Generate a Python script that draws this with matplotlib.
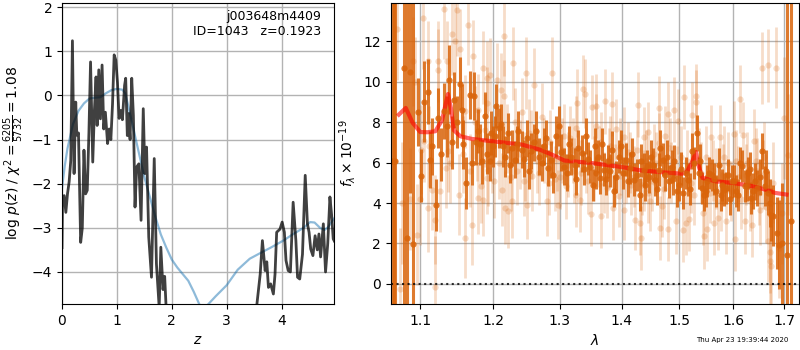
import numpy as np
import matplotlib
matplotlib.use("Agg")
import matplotlib.pyplot as plt
from matplotlib.ticker import FixedLocator, NullLocator

# --- left panel: log p(z) and prior curve ---
z_pz = [0.0, 0.01, 0.04, 0.07, 0.10, 0.13, 0.16, 0.19, 0.22, 0.25,
        0.27, 0.30, 0.34, 0.37, 0.40, 0.43, 0.46, 0.49, 0.52, 0.56,
        0.59, 0.62, 0.64, 0.67, 0.70, 0.73, 0.76, 0.79, 0.83, 0.86,
        0.89, 0.92, 0.95, 0.98, 1.01, 1.04, 1.07, 1.10, 1.14, 1.16,
        1.19, 1.21, 1.24, 1.27, 1.30, 1.33, 1.36, 1.40, 1.44, 1.48,
        1.51, 1.54, 1.58, 1.63, 1.68, 1.72, 1.77, 1.80, 1.84, 1.87,
        1.90, 1.95, 2.2, 2.6, 3.0, 3.4, 3.52, 3.55, 3.61, 3.65,
        3.70, 3.73, 3.76, 3.80, 3.85, 3.88, 3.91, 3.97, 4.01, 4.05,
        4.08, 4.12, 4.16, 4.21, 4.26, 4.29, 4.33, 4.38, 4.43, 4.47,
        4.50, 4.53, 4.57, 4.61, 4.65, 4.68, 4.71, 4.76, 4.80, 4.84,
        4.88, 4.91, 4.94, 4.96]
logp = [-3.45, -2.3, -2.27, -2.65, -2.23, -1.96, -1.47, 1.24, -1.77, -0.15,
        -0.9, -0.85, -3.33, -3.0, -1.24, -2.23, -2.15, -0.86, 0.76, -1.51,
        -0.34, 0.42, -0.68, 0.58, -0.53, 0.69, -0.76, -0.38, -1.09, -0.76,
        -1.0, -0.2, 0.92, 0.8, 0.3, -0.52, -0.34, -0.55, 0.23, 0.39,
        -0.91, -0.41, -1.0, 0.39, -0.45, -2.53, -1.62, -1.55, -2.83, -0.3,
        -1.77, -1.17, -3.21, -4.12, -1.43, -3.82, -4.8, -3.44, -4.4, -4.1,
        -4.9, -6.0, -9.0, -10.0, -9.0, -7.0, -5.5, -4.73, -4.05, -3.29,
        -3.97, -3.77, -4.35, -4.27, -4.5, -4.05, -3.1, -3.03, -2.87, -3.1,
        -3.74, -3.97, -4.0, -2.42, -3.29, -4.12, -4.16, -3.6, -1.81, -2.91,
        -3.1, -3.48, -3.63, -3.18, -3.5, -3.14, -3.66, -2.91, -4.0, -3.36,
        -2.30, -2.7, -3.25, -3.3]

z_prior = [0, 0.05, 0.1, 0.2, 0.3, 0.4, 0.5, 0.6, 0.7, 0.8, 0.9, 1.0, 1.1, 1.15,
           1.2, 1.3, 1.4, 1.5, 1.6, 1.7, 1.8, 1.9, 2.0, 2.1, 2.2, 2.3, 2.4, 2.5,
           2.58, 2.65, 2.8, 3.0, 3.2, 3.42, 3.6, 3.8, 4.03, 4.2, 4.4, 4.52, 4.6,
           4.7, 4.78, 4.85, 4.96]
logp_prior = [-2.1, -1.6, -1.2, -0.65, -0.35, -0.18, -0.07, -0.05, -0.04, 0.05,
              0.12, 0.15, 0.13, 0.05, -0.2, -0.75, -1.3, -1.85, -2.3, -2.75,
              -3.15, -3.45, -3.72, -3.9, -4.05, -4.2, -4.45, -4.73, -4.85, -4.75,
              -4.55, -4.3, -3.95, -3.7, -3.58, -3.45, -3.29, -3.15, -3.0, -2.87,
              -2.88, -3.0, -3.05, -2.98, -2.78]

# --- right panel: spectrum points (wavelength, flux, error) ---
dark_lam = [1.0635, 1.0655, 1.0675, 1.0785, 1.082, 1.087, 1.091, 1.097, 1.101, 1.105,
            1.110, 1.113, 1.116, 1.121, 1.124, 1.127, 1.131, 1.136, 1.139, 1.145,
            1.150, 1.153, 1.158, 1.162, 1.167, 1.170, 1.173, 1.178, 1.181, 1.184,
            1.188, 1.192, 1.197, 1.200, 1.205, 1.209, 1.214, 1.218, 1.222, 1.227,
            1.232, 1.237, 1.242, 1.250, 1.256, 1.264, 1.268, 1.275, 1.281, 1.286,
            1.294, 1.299, 1.306, 1.311, 1.318, 1.323, 1.329, 1.335, 1.342, 1.348,
            1.355, 1.358, 1.364, 1.371, 1.377, 1.383, 1.387, 1.395, 1.402, 1.407,
            1.414, 1.421, 1.426, 1.430, 1.437, 1.443, 1.450, 1.456, 1.463, 1.466,
            1.471, 1.475, 1.481, 1.486, 1.491, 1.496, 1.500, 1.506, 1.511, 1.516,
            1.522, 1.527, 1.531, 1.536, 1.541, 1.545, 1.549, 1.554, 1.559, 1.567,
            1.573, 1.578, 1.582, 1.586, 1.593, 1.597, 1.605, 1.612, 1.617, 1.622,
            1.629, 1.635, 1.642, 1.646, 1.656, 1.661, 1.668, 1.674, 1.678, 1.685,
            1.689, 1.696, 1.706, 1.715,
            1.143, 1.156, 1.176, 1.195, 1.203, 1.212, 1.225, 1.235, 1.246, 1.253,
            1.260, 1.272, 1.278, 1.290, 1.302, 1.314, 1.326, 1.338, 1.345, 1.352,
            1.361, 1.368, 1.374, 1.380, 1.391, 1.398, 1.410, 1.418, 1.433, 1.440,
            1.447, 1.453, 1.460, 1.478, 1.489, 1.503, 1.519, 1.538, 1.551, 1.563,
            1.576, 1.590, 1.601, 1.609, 1.626, 1.632, 1.639, 1.651, 1.664, 1.671]
dark_flux = [6.1, 6.1, 6.1, 10.7, 2.27, 10.5, 1.98, 8.5, 5.35, 9.0,
             9.5, 6.15, 6.8, 3.9, 8.2, 6.4, 8.55, 7.8, 10.1, 9.1,
             8.0, 9.9, 6.9, 5.0, 9.35, 6.0, 9.3, 7.55, 6.9, 6.06,
             8.3, 6.44, 7.47, 6.8, 8.8, 7.7, 6.8, 6.3, 7.46, 6.72,
             6.15, 7.55, 6.64, 7.2, 6.56, 7.55, 6.3, 6.8, 5.73, 6.15,
             7.3, 7.8, 5.8, 5.5, 6.3, 5.9, 6.7, 6.45, 7.3, 5.8,
             6.8, 5.5, 5.24, 5.65, 6.06, 6.64, 4.58, 6.3, 5.5, 6.15,
             5.73, 5.16, 5.4, 4.42, 5.65, 5.82, 6.3, 5.16, 5.65, 6.72,
             6.15, 5.4, 5.07, 5.8, 6.06, 4.58, 4.9, 4.5, 5.5, 5.16,
             6.56, 5.98, 7.46, 5.5, 4.74, 4.42, 4.58, 5.5, 5.4, 4.58,
             5.9, 4.9, 4.66, 4.74, 4.2, 5.07, 4.58, 5.98, 5.82, 4.83,
             5.5, 4.25, 5.07, 4.74, 6.56, 4.83, 4.5, 3.43, 3.38, 2.52,
             1.94, 2.0, 1.45, 3.1,
             7.0, 8.6, 7.0, 6.1, 7.3, 7.9, 5.9, 6.9, 6.2, 5.6,
             7.0, 6.0, 7.2, 5.4, 6.5, 6.9, 5.2, 5.7, 6.2, 4.9,
             6.3, 6.9, 5.2, 5.6, 5.3, 6.8, 5.1, 6.4, 6.1, 4.9,
             5.3, 5.9, 4.7, 6.3, 5.2, 5.7, 4.7, 6.1, 5.1, 5.2,
             4.4, 5.4, 5.1, 4.4, 4.9, 5.7, 4.6, 5.3, 5.6, 4.0]
dark_err = [20, 20, 20, 15, 12, 6.0, 12, 1.7, 1.3, 2.0,
            1.6, 1.4, 1.4, 1.3, 1.5, 1.3, 1.4, 1.5, 1.7, 1.4,
            1.3, 1.3, 1.2, 1.3, 1.2, 1.1, 1.2, 1.1, 1.0, 1.1,
            1.2, 1.0, 1.1, 1.0, 1.1, 1.0, 1.0, 1.0, 1.0, 0.9,
            0.9, 1.0, 0.9, 0.9, 0.9, 1.0, 0.9, 0.9, 0.9, 0.9,
            1.0, 1.0, 0.9, 0.9, 0.9, 0.8, 0.9, 0.9, 0.9, 0.8,
            0.9, 0.8, 0.8, 0.8, 0.8, 0.9, 0.8, 0.8, 0.8, 0.8,
            0.8, 0.8, 0.8, 0.8, 0.8, 0.8, 0.8, 0.8, 0.8, 0.9,
            0.8, 0.8, 0.8, 0.8, 0.8, 0.8, 0.8, 0.8, 0.8, 0.8,
            0.9, 0.8, 0.9, 0.8, 0.8, 0.8, 0.8, 0.8, 0.8, 0.8,
            0.8, 0.8, 0.8, 0.8, 0.8, 0.8, 0.8, 0.8, 0.8, 0.8,
            0.8, 0.8, 0.9, 0.9, 0.9, 1.0, 1.1, 1.3, 1.5, 1.8,
            2.2, 3.0, 15, 15,
            1.3, 1.3, 1.1, 1.0, 1.0, 1.0, 0.9, 0.9, 0.9, 0.9,
            0.9, 0.9, 0.9, 0.9, 0.9, 0.9, 0.8, 0.8, 0.8, 0.8,
            0.8, 0.8, 0.8, 0.8, 0.8, 0.8, 0.8, 0.8, 0.8, 0.8,
            0.8, 0.8, 0.8, 0.8, 0.8, 0.8, 0.8, 0.8, 0.8, 0.8,
            0.8, 0.8, 0.8, 0.8, 0.8, 0.8, 0.9, 0.9, 1.0, 1.2]

light_lam = [1.070, 1.074, 1.076, 1.087, 1.091, 1.093, 1.096, 1.099, 1.101, 1.104,
             1.105, 1.110, 1.110, 1.112, 1.115, 1.119, 1.120, 1.123, 1.124, 1.126,
             1.132, 1.134, 1.136, 1.137, 1.142, 1.147, 1.149, 1.152, 1.154, 1.161,
             1.161, 1.165, 1.170, 1.172, 1.174, 1.179, 1.179, 1.183, 1.185, 1.186,
             1.191, 1.192, 1.192, 1.193, 1.195, 1.202, 1.206, 1.211, 1.213, 1.216,
             1.216, 1.218, 1.221, 1.228, 1.229, 1.235, 1.242, 1.245, 1.249, 1.250,
             1.253, 1.258, 1.261, 1.265, 1.272, 1.280, 1.284, 1.288, 1.292, 1.297,
             1.303, 1.310, 1.316, 1.322, 1.326, 1.326, 1.327, 1.331, 1.337, 1.339,
             1.345, 1.349, 1.351, 1.357, 1.358, 1.362, 1.366, 1.372, 1.375, 1.380,
             1.384, 1.385, 1.391, 1.395, 1.399, 1.403, 1.404, 1.410, 1.416, 1.422,
             1.427, 1.430, 1.433, 1.437, 1.437, 1.445, 1.445, 1.448, 1.455, 1.463,
             1.464, 1.466, 1.469, 1.475, 1.479, 1.480, 1.485, 1.490, 1.493, 1.498,
             1.503, 1.506, 1.508, 1.511, 1.517, 1.520, 1.523, 1.530, 1.530, 1.535,
             1.542, 1.545, 1.551, 1.557, 1.562, 1.564, 1.570, 1.574, 1.580, 1.585,
             1.590, 1.601, 1.603, 1.608, 1.612, 1.619, 1.622, 1.627, 1.637, 1.640,
             1.645, 1.652, 1.655, 1.660, 1.667, 1.668, 1.671, 1.671, 1.673, 1.678,
             1.684, 1.689, 1.695, 1.700, 1.709,
             1.140, 1.158, 1.168, 1.177, 1.189, 1.198, 1.208, 1.220, 1.226, 1.232,
             1.239, 1.247, 1.256, 1.268, 1.276, 1.283, 1.295, 1.300, 1.307, 1.313,
             1.320, 1.334, 1.342, 1.354, 1.365, 1.370, 1.378, 1.389, 1.397, 1.407,
             1.413, 1.420, 1.426, 1.434, 1.441, 1.451, 1.458, 1.472, 1.483, 1.496,
             1.514, 1.527, 1.539, 1.548, 1.555, 1.567, 1.577, 1.583, 1.595, 1.605,
             1.615, 1.624, 1.633, 1.643, 1.649, 1.658, 1.663]
light_flux = [12.6, -0.25, 4.0, 4.2, 11.0, 10.0, 2.44, 4.2, 6.64, 13.15,
              7.05, 11.0, 3.76, 6.8, 4.66, 3.18, -0.15, 10.6, 11.0, 4.58,
              13.6, 5.73, 11.0, 6.56, 12.35, 12.0, 13.55, 4.42, 11.6, 8.53,
              2.27, 12.8, 2.92, 11.25, 8.0, 8.6, 4.25, 4.83, 4.17, 10.7,
              5.24, 10.2, 8.95, 5.65, 10.35, 5.07, 10.1, 9.6, 4.66, 12.27,
              9.27, 3.76, 3.6, 4.08, 10.9, 5.6, 8.48, 5.07, 10.43, 3.92,
              7.46, 5.32, 9.85, 6.1, 8.25, 4.08, 7.0, 10.43, 5.2, 3.92,
              6.6, 4.83, 7.2, 5.6, 7.71, 4.42, 8.95, 4.17, 9.64, 9.4,
              5.07, 3.46, 8.75, 7.8, 8.8, 6.3, 3.38, 9.03, 4.74, 6.8,
              8.9, 3.76, 7.66, 4.33, 5.9, 7.27, 3.67, 6.5, 4.9, 3.18,
              8.86, 3.01, 2.27, 7.27, 5.1, 7.5, 4.5, 4.12, 6.4, 8.7,
              6.97, 2.77, 3.84, 7.3, 8.4, 2.72, 5.5, 8.62, 3.1, 8.04,
              6.3, 2.69, 9.24, 3.01, 3.21, 5.0, 8.37, 9.27, 8.98, 6.2,
              3.51, 2.36, 2.72, 7.27, 5.6, 3.01, 3.26, 7.27, 5.4, 3.1,
              6.0, 7.43, 2.22, 5.3, 9.14, 7.38, 3.1, 6.0, 2.93, 7.05,
              5.6, 3.64, 10.68, 6.3, 10.8, 2.1, 1.57, 1.12, 0.87, 5.0,
              10.68, 1.78, 3.5, 8.2, 6.39,
              6.0, 6.4, 5.6, 6.9, 7.6, 6.3, 6.0, 7.2, 5.3, 8.0,
              6.4, 5.8, 6.9, 5.5, 6.6, 5.0, 6.2, 5.3, 7.3, 5.9,
              6.6, 5.5, 6.1, 5.7, 7.0, 5.0, 6.2, 5.4, 6.7, 5.5,
              6.0, 5.3, 6.6, 4.9, 6.1, 5.1, 6.0, 4.7, 6.7, 5.3,
              6.1, 4.4, 5.5, 6.3, 4.5, 5.2, 4.1, 6.3, 4.6, 6.1,
              4.2, 5.4, 4.1, 6.1, 4.5, 5.4, 3.8]
light_err = [2.5, 3.0, 3.0, 2.5, 2.2, 2.2, 2.5, 2.3, 2.2, 2.5,
             2.0, 2.0, 2.2, 2.0, 2.0, 2.2, 2.5, 2.0, 2.0, 2.0,
             2.5, 2.0, 2.0, 2.0, 2.0, 2.0, 2.3, 2.0, 2.0, 1.8,
             2.0, 2.0, 2.0, 1.8, 1.8, 1.8, 1.8, 1.8, 1.8, 1.8,
             1.8, 1.8, 1.8, 1.8, 1.8, 1.8, 1.8, 1.8, 1.8, 2.0,
             1.8, 1.8, 1.8, 1.8, 1.8, 1.7, 1.7, 1.7, 1.8, 1.7,
             1.7, 1.7, 1.8, 1.6, 1.7, 1.7, 1.6, 1.8, 1.6, 1.7,
             1.6, 1.6, 1.6, 1.6, 1.6, 1.6, 1.7, 1.6, 1.7, 1.7,
             1.6, 1.6, 1.6, 1.6, 1.6, 1.5, 1.6, 1.6, 1.5, 1.5,
             1.6, 1.6, 1.5, 1.5, 1.5, 1.5, 1.5, 1.5, 1.5, 1.5,
             1.6, 1.6, 1.6, 1.5, 1.5, 1.5, 1.5, 1.5, 1.5, 1.6,
             1.5, 1.6, 1.5, 1.5, 1.6, 1.6, 1.5, 1.6, 1.6, 1.6,
             1.5, 1.6, 1.6, 1.6, 1.6, 1.5, 1.6, 1.6, 1.6, 1.5,
             1.6, 1.6, 1.6, 1.6, 1.5, 1.6, 1.6, 1.6, 1.5, 1.6,
             1.5, 1.6, 1.6, 1.5, 1.7, 1.6, 1.6, 1.5, 1.6, 1.6,
             1.6, 1.7, 1.8, 1.7, 1.8, 2.0, 2.0, 2.2, 2.5, 2.0,
             2.0, 2.5, 2.5, 3.0, 3.0,
             2.0, 1.9, 1.8, 1.8, 1.8, 1.8, 1.8, 1.7, 1.7, 1.7,
             1.7, 1.7, 1.7, 1.6, 1.6, 1.6, 1.6, 1.6, 1.6, 1.6,
             1.6, 1.6, 1.6, 1.6, 1.5, 1.5, 1.5, 1.5, 1.5, 1.5,
             1.5, 1.5, 1.5, 1.5, 1.5, 1.5, 1.5, 1.5, 1.5, 1.5,
             1.5, 1.5, 1.5, 1.5, 1.5, 1.5, 1.5, 1.5, 1.5, 1.5,
             1.5, 1.5, 1.5, 1.6, 1.6, 1.7, 1.8]

# best-fit model
model_lam = [1.072, 1.081, 1.090, 1.100, 1.110, 1.120, 1.129, 1.137, 1.141, 1.145,
             1.154, 1.170, 1.200, 1.242, 1.269, 1.288, 1.307, 1.350, 1.400, 1.431,
             1.469, 1.505, 1.514, 1.522, 1.530, 1.535, 1.542, 1.567, 1.600, 1.637,
             1.663, 1.682, 1.705]
model_flux = [8.37, 8.7, 7.96, 7.51, 7.5, 7.55, 8.1, 9.39, 8.7, 7.6,
              7.3, 7.17, 7.05, 6.89, 6.64, 6.39, 6.1, 5.98, 5.78, 5.62,
              5.52, 5.45, 5.57, 5.98, 6.52, 5.82, 5.24, 5.07, 4.99, 4.83,
              4.66, 4.5, 4.42]

ORANGE = "#d9640a"

fig = plt.figure(figsize=(8, 3.5), dpi=100)
ax1 = fig.add_axes([0.0775, 0.131, 0.3404, 0.861])
ax2 = fig.add_axes([0.4884, 0.131, 0.5105, 0.861])

ax1.plot(z_prior, logp_prior, color="tab:blue", alpha=0.5, lw=1.6)
ax1.plot(z_pz, logp, color="k", alpha=0.75, lw=2)
ax1.set_xlim(0, 4.96)
ax1.set_ylim(-4.73, 2.1)
ax1.set_xticks([0, 1, 2, 3, 4])
ax1.set_yticks([-4, -3, -2, -1, 0, 1, 2])
ax1.grid(color="0.7", lw=1)
ax1.set_axisbelow(True)
ax1.set_xlabel("$z$")
ax1.set_ylabel(r"log $p(z)$ / $\chi^2=\frac{6205}{5732}=1.08$")
ax1.text(0.95, 0.975, "j003648m4409\nID=1043   z=0.1923", transform=ax1.transAxes,
         ha="right", va="top", fontsize=9)

# light (down-weighted) points first, then the main points
ax2.errorbar(light_lam, light_flux, yerr=light_err, fmt="o", color=ORANGE,
             alpha=0.22, markersize=4.5, elinewidth=2, capsize=0, markeredgewidth=0)
ax2.errorbar(dark_lam, dark_flux, yerr=dark_err, fmt="o", color=ORANGE,
             alpha=0.85, markersize=4.5, elinewidth=2.2, capsize=0, markeredgewidth=0)
ax2.plot(model_lam, model_flux, color="red", alpha=0.6, lw=3)
ax2.axhline(0, color="k", ls=":", lw=1.5, alpha=0.8)

ax2.set_xscale("log")
ax2.set_xlim(1.0617, 1.731)
ax2.set_ylim(-1, 13.9)
ax2.xaxis.set_major_locator(FixedLocator([1.1, 1.2, 1.3, 1.4, 1.5, 1.6, 1.7]))
ax2.xaxis.set_minor_locator(NullLocator())
ax2.set_xticklabels(["1.1", "1.2", "1.3", "1.4", "1.5", "1.6", "1.7"])
ax2.set_yticks([0, 2, 4, 6, 8, 10, 12])
ax2.grid(color="0.7", lw=1)
ax2.set_axisbelow(True)
ax2.set_xlabel(r"$\lambda$")
ax2.set_ylabel(r"$f_\lambda \times 10^{-19}$")

fig.text(0.985, 0.02, "Thu Apr 23 19:39:44 2020", ha="right", va="bottom", fontsize=5)

fig.savefig("out.png", dpi=100)
